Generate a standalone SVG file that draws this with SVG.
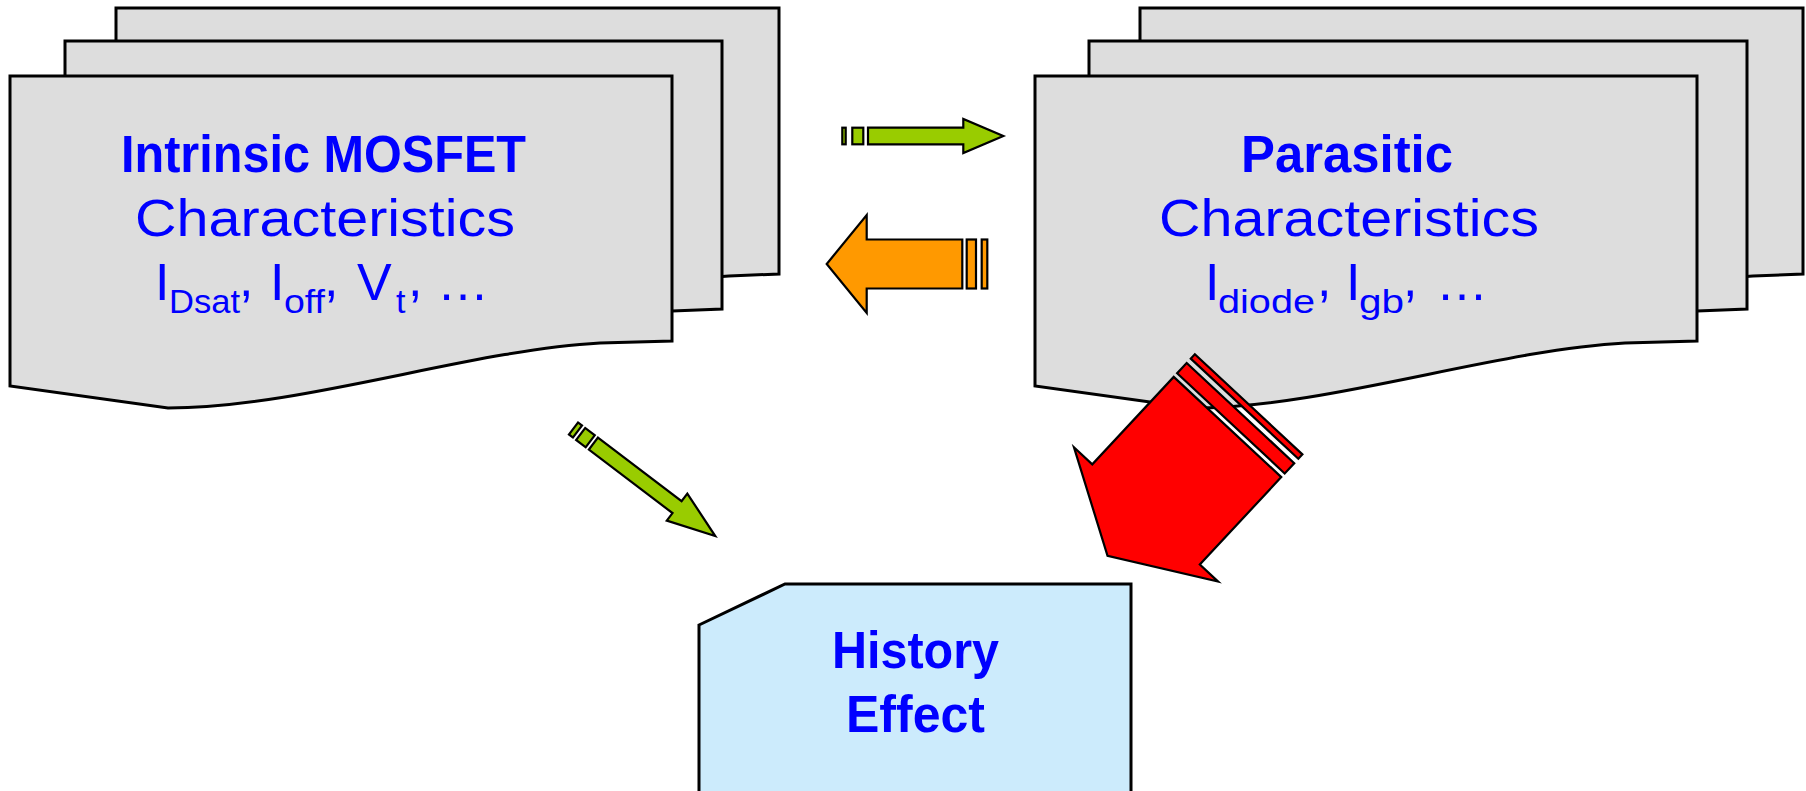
<svg xmlns="http://www.w3.org/2000/svg" width="1806" height="791" viewBox="0 0 1806 791">
<style>
.page{fill:#DDDDDD;stroke:#000;stroke-width:3;stroke-linejoin:miter}
.hist{fill:#CCEBFC;stroke:#000;stroke-width:3}
.t{font-family:"Liberation Sans",Arial,sans-serif;fill:#0000FF}
.b{font-weight:bold;font-size:51px}
.r{font-size:52px}
.s{font-size:34px}
.ar{stroke:#000;stroke-width:2.2;stroke-linejoin:miter}
.grn{fill:#99CC00}
.org{fill:#FF9900}
.red{fill:#FF0000}
</style>
<rect width="1806" height="791" fill="#fff"/>

<g id="intrinsic">
<path class="page" d="M116,8 H779 V274 L729,276 C599,283 429,341 297,341 L116,319 Z"/>
<path class="page" d="M65,41 H722 V309 L672,311 C542,318 372,376 240,376 L65,354 Z"/>
<path class="page" d="M10,76 H672 V341 L600,343 C470,350 300,408 168,408 L10,386 Z"/>
<text class="t b" x="121" y="172" textLength="405" lengthAdjust="spacingAndGlyphs">Intrinsic MOSFET</text>
<text class="t r" x="135" y="236" textLength="380" lengthAdjust="spacingAndGlyphs">Characteristics</text>
<text class="t r" x="155" y="300">I</text>
<text class="t s" x="169" y="313" textLength="71" lengthAdjust="spacingAndGlyphs">Dsat</text>
<text class="t r" x="239" y="296">,</text>
<text class="t r" x="270" y="300">I</text>
<text class="t s" x="284" y="313" textLength="41" lengthAdjust="spacingAndGlyphs">off</text>
<text class="t r" x="324" y="296">,</text>
<text class="t r" x="357" y="300">V</text>
<text class="t s" x="396" y="313">t</text>
<text class="t r" x="408" y="296">,</text>
<text class="t r" x="437" y="300">…</text>
</g>

<g id="parasitic">
<path class="page" d="M1140,8 H1803 V274 L1753,276 C1623,283 1453,341 1321,341 L1140,319 Z"/>
<path class="page" d="M1089,41 H1747 V309 L1697,311 C1567,318 1397,376 1265,376 L1089,354 Z"/>
<path class="page" d="M1035,76 H1697 V341 L1625,343 C1495,350 1325,408 1193,408 L1035,386 Z"/>
<text class="t b" x="1241" y="172" textLength="212" lengthAdjust="spacingAndGlyphs">Parasitic</text>
<text class="t r" x="1159" y="236" textLength="380" lengthAdjust="spacingAndGlyphs">Characteristics</text>
<text class="t r" x="1205" y="300">I</text>
<text class="t s" x="1218" y="313" textLength="97" lengthAdjust="spacingAndGlyphs">diode</text>
<text class="t r" x="1317" y="296">,</text>
<text class="t r" x="1346" y="300">I</text>
<text class="t s" x="1359" y="313" textLength="45" lengthAdjust="spacingAndGlyphs">gb</text>
<text class="t r" x="1403" y="296">,</text>
<text class="t r" x="1436" y="300">…</text>
</g>

<g id="history">
<path class="hist" d="M699,625 L785,584 H1131 V800 H699 Z"/>
<text class="t b" x="832" y="668" textLength="167" lengthAdjust="spacingAndGlyphs" style="font-size:52px">History</text>
<text class="t b" x="846" y="732" textLength="139" lengthAdjust="spacingAndGlyphs" style="font-size:52px">Effect</text>
</g>

<g id="connectors">
<g id="arrow-right" class="ar grn">
<rect x="842.3" y="127.7" width="3.4" height="16.6"/>
<rect x="852.3" y="127.7" width="11" height="16.6"/>
<path d="M868,127.7 H963.3 V119 L1003.3,136 L963.3,153 V144.3 H868 Z"/>
</g>
<g id="arrow-left" class="ar org">
<rect x="966.7" y="239.5" width="9.3" height="49"/>
<rect x="981.7" y="239.5" width="5.6" height="49"/>
<path d="M962.3,239.5 H866.7 V215 L826.7,264 L866.7,313 V288.5 H962.3 Z"/>
</g>
<g id="arrow-diag" class="ar grn" transform="translate(573.5,428.5) rotate(37.2)">
<rect x="0" y="-7.5" width="5" height="15"/>
<rect x="9" y="-7.5" width="12" height="15"/>
<path d="M25,-7.5 H130 V-17 L178,0 L130,17 V7.5 H25 Z"/>
</g>
<g id="arrow-red" class="ar red" transform="translate(1227.5,427) rotate(132.97)">
<rect x="-31" y="-73.5" width="6" height="147"/>
<rect x="-19" y="-73.5" width="14" height="147"/>
<path d="M0,-73.5 H119.5 V-98.5 L176,0 L119.5,98.5 V73.5 H0 Z"/>
</g>
</g>
</svg>
